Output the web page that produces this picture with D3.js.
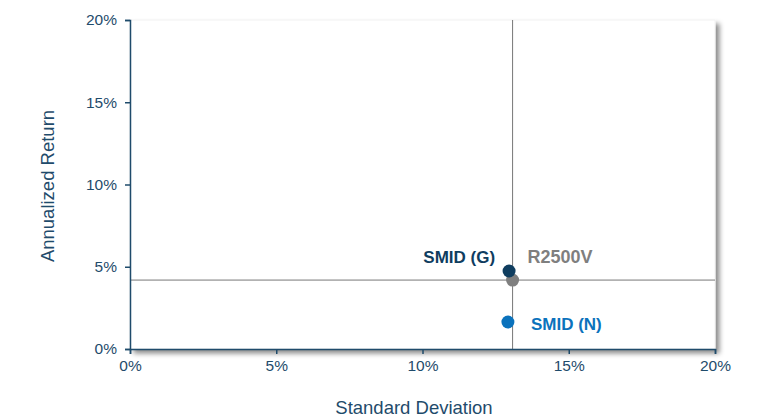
<!DOCTYPE html>
<html>
<head>
<meta charset="utf-8">
<script src="https://cdn.jsdelivr.net/npm/d3@7"></script>
<style>
  body { margin: 0; background: #fff; }
  text { font-family: "Liberation Sans", Arial, sans-serif; }
</style>
</head>
<body>
<div id="wrapper"></div>
<script>
// Risk / return scatter
const names = ["SMID (G)", "R2500V", "SMID (N)"]
const stdDev = [12.96, 13.08, 12.92]
const annReturn = [4.74, 4.19, 1.64]
const xTicks = [0, 5, 10, 15, 20]
const yTicks = [0, 5, 10, 15, 20]
const benchmark = "R2500V"

const colors = {"SMID (G)": "#0f3d5f", "R2500V": "#7f7f7f", "SMID (N)": "#0b72bc"}
const axisColor = "#1f4b6b"

const dimensions = {
  width: 765,
  height: 417,
  margin: {top: 20, right: 50, bottom: 68, left: 130}
}
dimensions.boundedWidth = dimensions.width - dimensions.margin.left - dimensions.margin.right
dimensions.boundedHeight = dimensions.height - dimensions.margin.top - dimensions.margin.bottom

const data = names.map((n, i) => ({name: n, x: stdDev[i], y: annReturn[i]}))

const svg = d3.select("#wrapper").append("svg")
  .attr("width", dimensions.width)
  .attr("height", dimensions.height)

const defs = svg.append("defs")
const shadow = defs.append("filter").attr("id", "shadow")
  .attr("x", "-5%").attr("y", "-5%").attr("width", "115%").attr("height", "120%")
shadow.append("feDropShadow")
  .attr("dx", 4).attr("dy", 4).attr("stdDeviation", 2.5)
  .attr("flood-color", "#000").attr("flood-opacity", 0.45)

const bounds = svg.append("g")
  .attr("transform", `translate(${dimensions.margin.left},${dimensions.margin.top})`)

const xScale = d3.scaleLinear().domain([0, 20]).range([0, dimensions.boundedWidth])
const yScale = d3.scaleLinear().domain([0, 20]).range([dimensions.boundedHeight, 0])

// plot box with shadow
bounds.append("rect")
  .attr("width", dimensions.boundedWidth)
  .attr("height", dimensions.boundedHeight)
  .attr("fill", "#fff")
  .attr("stroke", "#f2f2f2")
  .attr("filter", "url(#shadow)")

// benchmark cross lines
const bench = data.find(d => d.name === benchmark)
bounds.append("line")
  .attr("x1", xScale(bench.x)).attr("x2", xScale(bench.x))
  .attr("y1", 0).attr("y2", dimensions.boundedHeight)
  .attr("stroke", "#777").attr("stroke-width", 1)
bounds.append("line")
  .attr("x1", 0).attr("x2", dimensions.boundedWidth)
  .attr("y1", yScale(bench.y)).attr("y2", yScale(bench.y))
  .attr("stroke", "#777").attr("stroke-width", 1)

// axes
const xAxis = bounds.append("g")
  .attr("transform", `translate(0,${dimensions.boundedHeight})`)
  .call(d3.axisBottom(xScale).tickValues(xTicks).tickFormat(d => d + "%").tickSizeOuter(0).tickSize(5).tickPadding(6))
const yAxis = bounds.append("g")
  .call(d3.axisLeft(yScale).tickValues(yTicks).tickFormat(d => d + "%").tickSizeOuter(0).tickSize(5).tickPadding(8))

;[xAxis, yAxis].forEach(ax => {
  ax.select(".domain").attr("stroke", axisColor).attr("stroke-width", 1.5)
  ax.selectAll(".tick line").attr("stroke", axisColor).attr("stroke-width", 1.5)
  ax.selectAll(".tick text")
    .attr("fill", axisColor)
    .style("font-size", "15.5px")
    .style("font-family", "'Liberation Sans', Arial, sans-serif")
})

// points
bounds.selectAll("circle.pt")
  .data(data.slice().reverse())
  .join("circle")
  .attr("class", "pt")
  .attr("cx", d => xScale(d.x))
  .attr("cy", d => yScale(d.y))
  .attr("r", 6.5)
  .attr("fill", d => colors[d.name])

// labels
const labelOffsets = {
  "SMID (G)": {dx: -14, dy: -8, anchor: "end"},
  "R2500V": {dx: 15, dy: -17, anchor: "start"},
  "SMID (N)": {dx: 23, dy: 8, anchor: "start"}
}
bounds.selectAll("text.lbl")
  .data(data)
  .join("text")
  .attr("class", "lbl")
  .attr("x", d => xScale(d.x) + labelOffsets[d.name].dx)
  .attr("y", d => yScale(d.y) + labelOffsets[d.name].dy)
  .attr("text-anchor", d => labelOffsets[d.name].anchor)
  .attr("fill", d => colors[d.name])
  .style("font-weight", "bold")
  .style("font-size", d => d.name === benchmark ? "18px" : "17px")
  .text(d => d.name)

// axis titles
svg.append("text")
  .attr("x", 414)
  .attr("y", 414)
  .attr("text-anchor", "middle")
  .attr("fill", axisColor)
  .style("font-size", "18.5px")
  .text("Standard Deviation")

svg.append("text")
  .attr("transform", `translate(54,186) rotate(-90)`)
  .attr("text-anchor", "middle")
  .attr("fill", axisColor)
  .style("font-size", "18.5px")
  .text("Annualized Return")
</script>
</body>
</html>
